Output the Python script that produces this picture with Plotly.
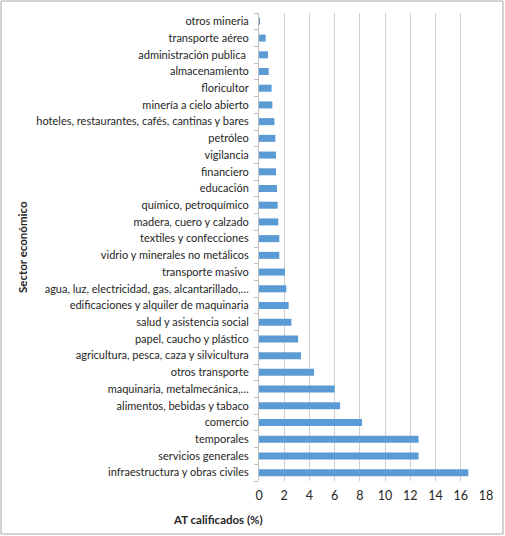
"""Accidentes de trabajo calificados por sector económico"""

import plotly.graph_objects as go

# orden de abajo hacia arriba
sectores = [
    "infraestructura y obras civiles",
    "servicios generales",
    "temporales",
    "comercio",
    "alimentos, bebidas y tabaco",
    "maquinaria, metalmecánica,…",
    "otros transporte",
    "agricultura, pesca, caza y silvicultura",
    "papel, caucho y plástico",
    "salud y asistencia social",
    "edificaciones y alquiler de maquinaria",
    "agua, luz, electricidad, gas, alcantarillado,…",
    "transporte masivo",
    "vidrio y minerales no metálicos",
    "textiles y confecciones",
    "madera, cuero y calzado",
    "químico, petroquímico",
    "educación",
    "financiero",
    "vigilancia",
    "petróleo",
    "hoteles, restaurantes, cafés, cantinas y bares",
    "minería a cielo abierto",
    "floricultor",
    "almacenamiento",
    "administración publica ",
    "transporte aéreo",
    "otros mineria",
]
at_calificados = [
    16.6, 12.65, 12.65, 8.17, 6.43, 6.0, 4.37, 3.33, 3.10, 2.57,
    2.35, 2.17, 2.06, 1.61, 1.61, 1.53, 1.48, 1.43, 1.35, 1.35,
    1.30, 1.22, 1.06, 1.0, 0.77, 0.71, 0.53, 0.05,
]
x_ticks = list(range(0, 20, 2))

W, H = 505, 536
L, R, T, B = 259, 19, 13, 55
pw = W - L - R
ph = H - T - B

fig = go.Figure()
fig.add_bar(
    x=at_calificados,
    y=sectores,
    orientation="h",
    marker=dict(color="#5B9BD5", line=dict(width=0)),
    width=0.42,
    hoverinfo="x+y",
)

fig.update_layout(
    width=W,
    height=H,
    margin=dict(l=L, r=R, t=T, b=B, pad=0),
    paper_bgcolor="white",
    plot_bgcolor="white",
    font=dict(family="Lato, Open Sans, sans-serif", size=11, color="#262626"),
    showlegend=False,
    xaxis=dict(
        range=[0, 18],
        tickvals=x_ticks,
        showgrid=True,
        gridcolor="#D0D0D0",
        gridwidth=1,
        zeroline=False,
        showline=False,
        ticks="",
        tickfont=dict(size=12.5),
        ticklabelstandoff=5,
        fixedrange=True,
    ),
    yaxis=dict(
        type="category",
        categoryorder="array",
        categoryarray=sectores,
        showline=True,
        linecolor="#BFBFBF",
        linewidth=1,
        ticks="outside",
        tickson="boundaries",
        ticklen=4,
        tickcolor="#BFBFBF",
        showgrid=False,
        ticklabelstandoff=7,
        fixedrange=True,
    ),
)

# títulos de los ejes
fig.add_annotation(
    text="<b>Sector económico</b>",
    xref="paper", yref="paper",
    x=(22 - L) / pw, y=(H - B - 247) / ph,
    xanchor="center", yanchor="middle",
    textangle=-90, showarrow=False,
    font=dict(size=11.5, color="#262626"),
)
fig.add_annotation(
    text="<b>AT calificados (%)</b>",
    xref="paper", yref="paper",
    x=(218 - L) / pw, y=(H - B - 519) / ph,
    xanchor="center", yanchor="middle",
    showarrow=False,
    font=dict(size=11.5, color="#262626"),
)

# borde del gráfico
fig.add_shape(
    type="rect",
    xref="paper", yref="paper",
    x0=(1 - L) / pw, x1=(W - 2 - L) / pw,
    y0=(H - B - (H - 2)) / ph, y1=(H - B - 1) / ph,
    line=dict(color="#A6A6A6", width=1),
    fillcolor="rgba(0,0,0,0)",
    layer="below",
)

# sin margen del body para que la figura ocupe toda la ventana
fig.write_html(
    "out.html",
    config={"displayModeBar": False},
    post_script="document.body.style.margin='0';",
)
